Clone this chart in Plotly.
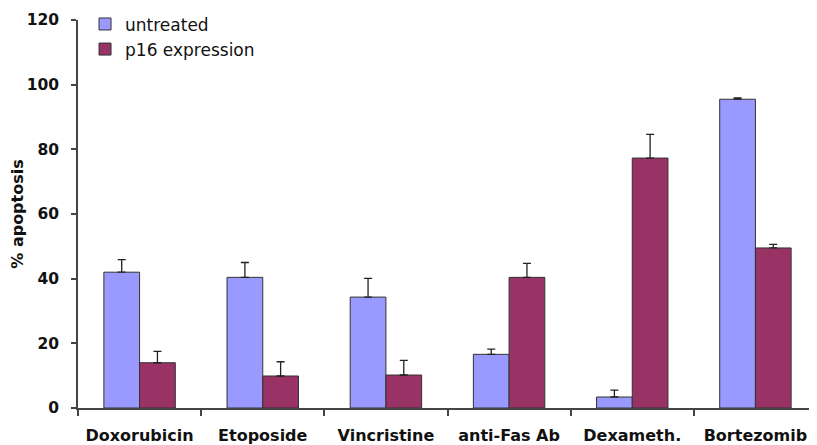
import plotly.graph_objects as go

categories = ["Doxorubicin", "Etoposide", "Vincristine", "anti-Fas Ab", "Dexameth.", "Bortezomib"]
untreated = [42.0, 40.4, 34.3, 16.6, 3.4, 95.5]
untreated_err = [3.9, 4.6, 5.8, 1.6, 2.1, 0.4]
p16 = [14.0, 9.9, 10.2, 40.4, 77.3, 49.5]
p16_err = [3.5, 4.4, 4.5, 4.3, 7.3, 1.1]
y_ticks = [0, 20, 40, 60, 80, 100, 120]

FONT = "DejaVu Sans, sans-serif"

fig = go.Figure()
fig.add_trace(go.Bar(
    x=categories, y=untreated, name="untreated",
    marker=dict(color="#9999FF", line=dict(color="#333333", width=1)),
    error_y=dict(type="data", array=untreated_err, arrayminus=[0]*6, symmetric=False,
                 color="#222222", thickness=1.3, width=4),
))
fig.add_trace(go.Bar(
    x=categories, y=p16, name="p16 expression",
    marker=dict(color="#993366", line=dict(color="#333333", width=1)),
    error_y=dict(type="data", array=p16_err, arrayminus=[0]*6, symmetric=False,
                 color="#222222", thickness=1.3, width=4),
))

# page body has an 8px default margin, so the figure is sized to fit the 817x445 window
fig.update_layout(
    width=809, height=437,
    margin=dict(l=70, r=0, t=12, b=36.5, autoexpand=False),
    paper_bgcolor="white", plot_bgcolor="white",
    barmode="group", bargap=0.42, bargroupgap=0,
    font=dict(family=FONT, color="#111111"),
    showlegend=True,
    legend=dict(x=0.0095, y=1.035, xanchor="left", yanchor="top",
                font=dict(size=17, family=FONT, color="#111111"),
                bgcolor="rgba(0,0,0,0)", tracegroupgap=0, itemwidth=30),
)
fig.update_xaxes(
    type="category", showline=True, linecolor="#444444", linewidth=1.5,
    ticks="outside", tickson="boundaries", ticklen=6, tickcolor="#444444", tickwidth=1.5,
    tickfont=dict(size=16, family=FONT, color="#111111", weight="bold"),
    ticklabelstandoff=12, showgrid=False, automargin=False,
)
fig.update_yaxes(
    range=[0, 120], tickvals=y_ticks, showline=True, linecolor="#444444", linewidth=1.5,
    ticks="outside", ticklen=5, tickcolor="#444444", tickwidth=1.5,
    tickfont=dict(size=15.5, family=FONT, color="#111111", weight="bold"),
    ticklabelstandoff=9, showgrid=False, zeroline=False, automargin=False,
    title=dict(text="% apoptosis", font=dict(size=16, family=FONT, color="#111111", weight="bold"), standoff=5),
)

fig.write_html("out.html")
